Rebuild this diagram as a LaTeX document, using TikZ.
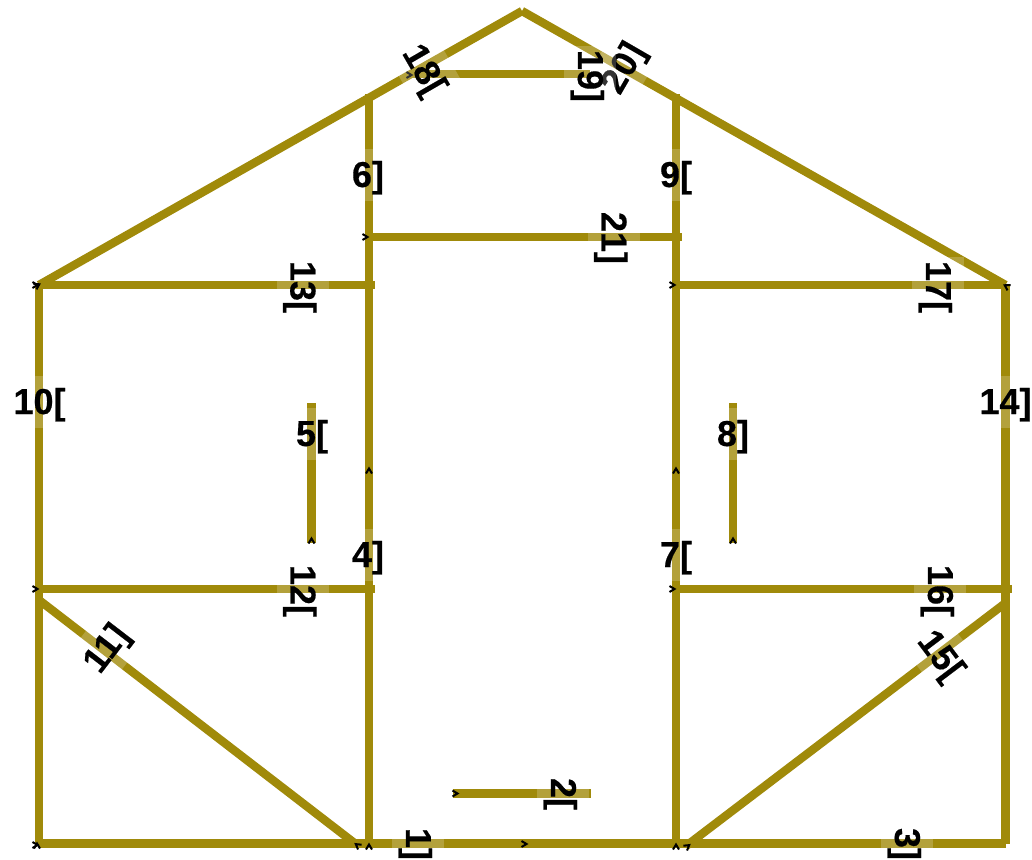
\documentclass[tikz,border=0pt]{standalone}
\usepackage{fontspec}
\setmainfont{Liberation Sans}
\newfontfamily\labfont[FakeBold=0.4]{Liberation Sans Bold}
\definecolor{edgeol}{RGB}{160,138,10}
\newcommand{\lbl}[1]{\raisebox{-3pt}[26pt][8pt]{#1}}
\tikzset{
  edgeline/.style={draw=edgeol,line width=8.4pt},
  lab/.style={fill=white,fill opacity=.2,text opacity=1,inner xsep=4pt,inner ysep=0pt,minimum height=52pt,font=\fontsize{36}{36}\labfont},
  chev/.pic={\draw[black,line width=2pt] (-3.5,-3)--(1.5,0)--(-3.5,3);}
}
\begin{document}
\begin{tikzpicture}[x=1pt,y=-1pt]
\useasboundingbox (0,0) rectangle (1032,859);
% vertices
\coordinate (tl) at (39,285);
\coordinate (tr) at (1005.5,285);
\coordinate (bl) at (39,843.5);
\coordinate (br) at (1005.5,843.5);
\coordinate (apex) at (522,11);
\coordinate (a1) at (369,94);
\coordinate (a2) at (369,847);
\coordinate (b1) at (676,94);
\coordinate (b2) at (676,847);
\coordinate (m1) at (375,285);
\coordinate (m2) at (676,285);
\coordinate (n1) at (39,589);
\coordinate (n2) at (375,589);
\coordinate (n3) at (676,589);
\coordinate (n4) at (1012,589);
\coordinate (r1) at (369,237);
\coordinate (r2) at (682,237);
\coordinate (s1) at (410,74);
\coordinate (s2) at (590,74);
\coordinate (t1) at (453,793.5);
\coordinate (t2) at (591,793.5);
\coordinate (u1) at (311.5,403);
\coordinate (u2) at (311.5,543);
\coordinate (v1) at (733,403);
\coordinate (v2) at (733,543);
\coordinate (d1) at (39,600);
\coordinate (d2) at (357,845);
\coordinate (e1) at (1005.5,603);
\coordinate (e2) at (686,846);
% edges
\draw[edgeline] (tl) -- (bl);
\draw[edgeline] (tr) -- (br);
\draw[edgeline] (bl) -- (br);
\draw[edgeline] (a1) -- (a2);
\draw[edgeline] (b1) -- (b2);
\draw[edgeline] (tl) -- (m1);
\draw[edgeline] (m2) -- (tr);
\draw[edgeline] (n1) -- (n2);
\draw[edgeline] (n3) -- (n4);
\draw[edgeline] (r1) -- (r2);
\draw[edgeline] (s1) -- (s2);
\draw[edgeline] (t1) -- (t2);
\draw[edgeline] (u1) -- (u2);
\draw[edgeline] (v1) -- (v2);
\draw[edgeline] (d1) -- (d2);
\draw[edgeline] (e1) -- (e2);
\draw[edgeline] (tl) -- (apex);
\draw[edgeline] (tr) -- (apex);
% arrowheads
\pic[rotate=0] at (366,237) {chev};
\pic[rotate=90] at (369,470) {chev};
\pic[rotate=90] at (676,470) {chev};
\pic[rotate=90] at (311.5,540) {chev};
\pic[rotate=90] at (733,540) {chev};
\pic[rotate=0] at (36,285) {chev};
\pic[rotate=30] at (38,285) {chev};
\pic[rotate=150] at (1006,286) {chev};
\pic[rotate=0] at (673,285) {chev};
\pic[rotate=0] at (673,589) {chev};
\pic[rotate=0] at (36,589) {chev};
\pic[rotate=0] at (36,845) {chev};
\pic[rotate=90] at (37,845) {chev};
\pic[rotate=143] at (357,845) {chev};
\pic[rotate=90] at (369,846) {chev};
\pic[rotate=90] at (676,846) {chev};
\pic[rotate=37] at (688,846) {chev};
\pic[rotate=0] at (525,844) {chev};
\pic[rotate=0] at (456,793.5) {chev};
\pic[rotate=0] at (410,75) {chev};
% labels
\node[lab,rotate=-90] (l1) at (418,844) {\lbl{1]}};
\node[lab,rotate=-90] (l2) at (563,794) {\lbl{2[}};
\node[lab,rotate=-90] (l3) at (907,844) {\lbl{3]}};
\node[lab] (l4) at (368,555) {\lbl{4]}};
\node[lab] (l5) at (312,434) {\lbl{5[}};
\node[lab] (l6) at (368,175) {\lbl{6]}};
\node[lab] (l7) at (676,555) {\lbl{7[}};
\node[lab] (l8) at (733,434) {\lbl{8]}};
\node[lab] (l9) at (676,175) {\lbl{9[}};
\node[lab] (l10) at (39.5,402) {\lbl{10[}};
\node[lab,rotate=52.5] (l11) at (105.6,648) {\lbl{11]}};
\node[lab,rotate=-90] (l12) at (302.5,591) {\lbl{12[}};
\node[lab,rotate=-90] (l13) at (302.5,287) {\lbl{13[}};
\node[lab] (l14) at (1005.5,402) {\lbl{14]}};
\node[lab,rotate=-53] (l15) at (941.5,655) {\lbl{15[}};
\node[lab,rotate=-90] (l16) at (940,591) {\lbl{16[}};
\node[lab,rotate=-90] (l17) at (938,287) {\lbl{17[}};
\node[lab,rotate=-60] (l18) at (425,69.5) {\lbl{18[}};
\node[lab,rotate=60] (l20) at (622.5,67.5) {\lbl{20]}};
\node[lab,rotate=-90] (l19) at (590,76) {\lbl{19]}};
\node[lab,rotate=-90] (l21) at (613.5,238) {\lbl{21]}};
\end{tikzpicture}
\end{document}
